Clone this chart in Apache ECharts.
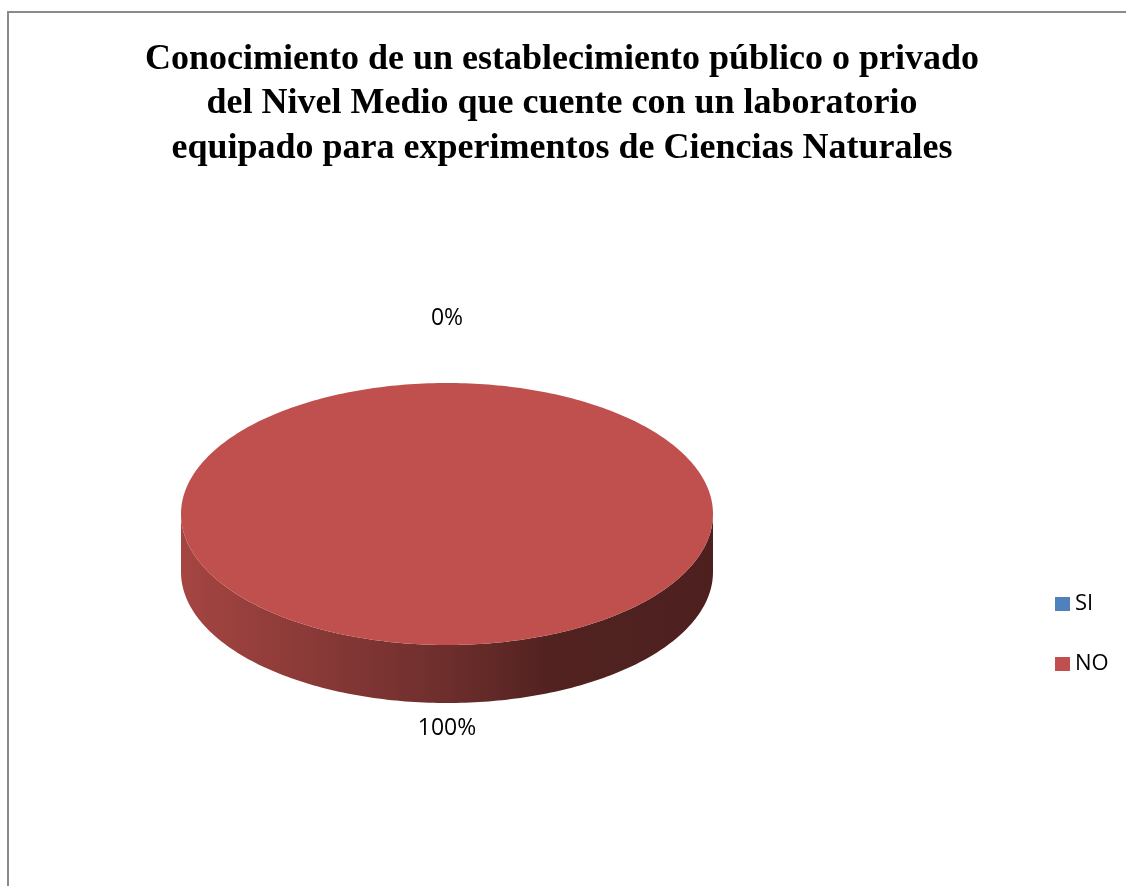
<!DOCTYPE html>
<html>
<head>
<meta charset="utf-8">
<script src="https://cdn.jsdelivr.net/npm/echarts@6/dist/echarts.min.js"></script>
<style>
  html, body { margin: 0; padding: 0; background: #ffffff; }
  #chart { width: 1126px; height: 886px; }
</style>
</head>
<body>
<div id="chart"></div>
<script>
// Chart content
const titleLines = [
  'Conocimiento de un establecimiento público o privado',
  'del Nivel Medio que cuente con un laboratorio',
  'equipado para experimentos de Ciencias Naturales'
];
const categories = ['SI', 'NO'];
const values = [0, 100];
const sliceColors = ['#4F81BD', '#C0504D'];

// Disc drawing settings
const WALL_DEPTH = 58;      // thickness of the disc rim, px
const ARC_STEPS = 360;      // segments for a full turn
const LABEL_GAP_BACK = 65;  // label distance beyond the rear rim, px
const LABEL_GAP_FRONT = 25; // label distance below the front wall, px

const chart = echarts.init(document.getElementById('chart'));
const total = values.reduce((a, b) => a + b, 0);

function shade(hex, f) {
  const n = parseInt(hex.slice(1), 16);
  const r = Math.round(((n >> 16) & 255) * f);
  const g = Math.round(((n >> 8) & 255) * f);
  const b = Math.round((n & 255) * f);
  return 'rgb(' + r + ',' + g + ',' + b + ')';
}

function renderSlice(params, api) {
  const i = params.seriesIndex;
  let before = 0;
  for (let k = 0; k < i; k++) before += values[k];
  const f0 = before / total;
  const f1 = (before + values[i]) / total;
  // angle runs clockwise from 12 o'clock
  const pt = (t) => api.coord([Math.sin(2 * Math.PI * t), Math.cos(2 * Math.PI * t)]);
  const c = api.coord([0, 0]);
  const left = api.coord([-1, 0]);
  const right = api.coord([1, 0]);
  const base = sliceColors[i];
  const children = [];

  if (f1 > f0) {
    // front rim: visible for the lower half of the turn
    const a = Math.max(f0, 0.25);
    const b = Math.min(f1, 0.75);
    if (b > a) {
      const top = [], bottom = [];
      const n = Math.max(2, Math.ceil((b - a) * ARC_STEPS));
      for (let s = 0; s <= n; s++) {
        const p = pt(a + (b - a) * s / n);
        top.push(p);
        bottom.push([p[0], p[1] + WALL_DEPTH]);
      }
      children.push({
        type: 'polygon',
        shape: { points: top.concat(bottom.reverse()) },
        style: {
          fill: {
            type: 'linear', global: true,
            x: left[0], y: 0, x2: right[0], y2: 0,
            colorStops: [
              { offset: 0, color: shade(base, 0.86) },
              { offset: 0.5, color: shade(base, 0.57) },
              { offset: 0.7, color: shade(base, 0.42) },
              { offset: 1, color: shade(base, 0.40) }
            ]
          }
        }
      });
    }
    // top face
    const pts = [c];
    const n = Math.max(2, Math.ceil((f1 - f0) * ARC_STEPS));
    for (let s = 0; s <= n; s++) pts.push(pt(f0 + (f1 - f0) * s / n));
    children.push({ type: 'polygon', shape: { points: pts }, style: { fill: base } });
  }

  // percentage label outside the disc at the slice's middle angle
  const tm = (f0 + f1) / 2;
  const p = pt(tm);
  let dx = p[0] - c[0], dy = p[1] - c[1];
  const len = Math.sqrt(dx * dx + dy * dy) || 1;
  dx /= len; dy /= len;
  const front = Math.cos(2 * Math.PI * tm) < 0;
  const gap = front ? LABEL_GAP_FRONT : LABEL_GAP_BACK;
  const lx = p[0] + dx * gap;
  const ly = p[1] + (front ? WALL_DEPTH : 0) + dy * gap;
  children.push({
    type: 'text',
    x: lx, y: ly,
    style: {
      text: Math.round(values[i] / total * 100) + '%',
      fill: '#000000',
      font: '23px "Open Sans"',
      align: 'center',
      verticalAlign: 'middle'
    }
  });

  return { type: 'group', children: children };
}

const series = categories.map((name, i) => ({
  name: name,
  type: 'custom',
  coordinateSystem: 'cartesian2d',
  clip: false,
  silent: true,
  itemStyle: { color: sliceColors[i] },
  data: [[0, 0, values[i]]],
  renderItem: renderSlice
}));

chart.setOption({
  animation: false,
  backgroundColor: '#ffffff',
  title: {
    text: titleLines.join('\n'),
    left: 562,
    top: 37,
    padding: 0,
    textAlign: 'center',
    textStyle: {
      fontFamily: '"Liberation Serif", "Times New Roman", serif',
      fontWeight: 'bold',
      fontSize: 36,
      lineHeight: 44.5,
      color: '#000000'
    }
  },
  legend: {
    data: categories,
    orient: 'vertical',
    left: 1050,
    top: 588,
    itemWidth: 15,
    itemHeight: 14,
    itemGap: 38,
    icon: 'rect',
    selectedMode: false,
    textStyle: { fontFamily: '"Open Sans"', fontSize: 22, lineHeight: 22, color: '#000000' }
  },
  grid: { left: 181, top: 383, width: 532, height: 262 },
  xAxis: { type: 'value', min: -1, max: 1, show: false },
  yAxis: { type: 'value', min: -1, max: 1, show: false },
  graphic: [{
    type: 'rect',
    z: -10,
    shape: { x: 8, y: 12, width: 1200, height: 1000 },
    style: { fill: 'none', stroke: '#8a8a8a', lineWidth: 2 }
  }],
  series: series
});
</script>
</body>
</html>
